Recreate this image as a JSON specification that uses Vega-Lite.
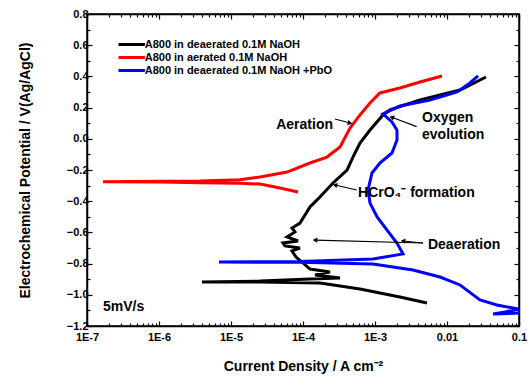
{
  "$schema": "https://vega.github.io/schema/vega-lite/v6.json",
  "width": 432,
  "height": 312,
  "autosize": {"type": "none"},
  "padding": {"left": 87, "top": 14, "right": 9, "bottom": 53},
  "background": "white",
  "config": {
    "view": {"stroke": "black", "strokeWidth": 1.5},
    "font": "Liberation Sans",
    "axis": {
      "labelFont": "Liberation Sans", "labelFontWeight": "bold", "labelFontSize": 11, "labelColor": "black",
      "titleFont": "Liberation Sans", "titleFontWeight": "bold", "titleFontSize": 14, "titleColor": "black",
      "domainColor": "black", "domainWidth": 1.5, "tickColor": "black", "tickWidth": 1.2, "grid": false
    }
  },
  "datasets": {
    "curves": [
      {"series": "A800 in deaerated 0.1M NaOH", "i": 1, "I": 5.27e-3, "E": -1.053},
      {"series": "A800 in deaerated 0.1M NaOH", "i": 2, "I": 2.22e-3, "E": -1.014},
      {"series": "A800 in deaerated 0.1M NaOH", "i": 3, "I": 1.17e-3, "E": -0.988},
      {"series": "A800 in deaerated 0.1M NaOH", "i": 4, "I": 6.19e-4, "E": -0.963},
      {"series": "A800 in deaerated 0.1M NaOH", "i": 5, "I": 3.27e-4, "E": -0.944},
      {"series": "A800 in deaerated 0.1M NaOH", "i": 6, "I": 1.72e-4, "E": -0.924},
      {"series": "A800 in deaerated 0.1M NaOH", "i": 7, "I": 2.53e-5, "E": -0.918},
      {"series": "A800 in deaerated 0.1M NaOH", "i": 8, "I": 3.95e-6, "E": -0.918},
      {"series": "A800 in deaerated 0.1M NaOH", "i": 9, "I": 2.53e-5, "E": -0.912},
      {"series": "A800 in deaerated 0.1M NaOH", "i": 10, "I": 1.25e-4, "E": -0.899},
      {"series": "A800 in deaerated 0.1M NaOH", "i": 11, "I": 3.27e-4, "E": -0.892},
      {"series": "A800 in deaerated 0.1M NaOH", "i": 12, "I": 1.47e-4, "E": -0.873},
      {"series": "A800 in deaerated 0.1M NaOH", "i": 13, "I": 2.37e-4, "E": -0.854},
      {"series": "A800 in deaerated 0.1M NaOH", "i": 14, "I": 1.25e-4, "E": -0.835},
      {"series": "A800 in deaerated 0.1M NaOH", "i": 15, "I": 1.0e-4, "E": -0.796},
      {"series": "A800 in deaerated 0.1M NaOH", "i": 16, "I": 8.0e-5, "E": -0.758},
      {"series": "A800 in deaerated 0.1M NaOH", "i": 17, "I": 7.03e-5, "E": -0.719},
      {"series": "A800 in deaerated 0.1M NaOH", "i": 18, "I": 9.08e-5, "E": -0.700},
      {"series": "A800 in deaerated 0.1M NaOH", "i": 19, "I": 5.62e-5, "E": -0.687},
      {"series": "A800 in deaerated 0.1M NaOH", "i": 20, "I": 5.27e-5, "E": -0.668},
      {"series": "A800 in deaerated 0.1M NaOH", "i": 21, "I": 8.53e-5, "E": -0.655},
      {"series": "A800 in deaerated 0.1M NaOH", "i": 22, "I": 6.0e-5, "E": -0.629},
      {"series": "A800 in deaerated 0.1M NaOH", "i": 23, "I": 7.74e-5, "E": -0.597},
      {"series": "A800 in deaerated 0.1M NaOH", "i": 24, "I": 7.03e-5, "E": -0.572},
      {"series": "A800 in deaerated 0.1M NaOH", "i": 25, "I": 9.08e-5, "E": -0.540},
      {"series": "A800 in deaerated 0.1M NaOH", "i": 26, "I": 1.25e-4, "E": -0.437},
      {"series": "A800 in deaerated 0.1M NaOH", "i": 27, "I": 1.72e-4, "E": -0.373},
      {"series": "A800 in deaerated 0.1M NaOH", "i": 28, "I": 2.61e-4, "E": -0.283},
      {"series": "A800 in deaerated 0.1M NaOH", "i": 29, "I": 4.09e-4, "E": -0.200},
      {"series": "A800 in deaerated 0.1M NaOH", "i": 30, "I": 4.94e-4, "E": -0.117},
      {"series": "A800 in deaerated 0.1M NaOH", "i": 31, "I": 6.19e-4, "E": -0.027},
      {"series": "A800 in deaerated 0.1M NaOH", "i": 32, "I": 8.53e-4, "E": 0.056},
      {"series": "A800 in deaerated 0.1M NaOH", "i": 33, "I": 1.29e-3, "E": 0.153},
      {"series": "A800 in deaerated 0.1M NaOH", "i": 34, "I": 1.61e-3, "E": 0.185},
      {"series": "A800 in deaerated 0.1M NaOH", "i": 35, "I": 4.22e-3, "E": 0.249},
      {"series": "A800 in deaerated 0.1M NaOH", "i": 36, "I": 1.52e-2, "E": 0.313},
      {"series": "A800 in deaerated 0.1M NaOH", "i": 37, "I": 3.48e-2, "E": 0.396},

      {"series": "A800 in aerated 0.1M NaOH", "i": 1, "I": 8.53e-5, "E": -0.341},
      {"series": "A800 in aerated 0.1M NaOH", "i": 2, "I": 4.8e-5, "E": -0.315},
      {"series": "A800 in aerated 0.1M NaOH", "i": 3, "I": 2.53e-5, "E": -0.290},
      {"series": "A800 in aerated 0.1M NaOH", "i": 4, "I": 1.33e-5, "E": -0.285},
      {"series": "A800 in aerated 0.1M NaOH", "i": 5, "I": 3.71e-6, "E": -0.281},
      {"series": "A800 in aerated 0.1M NaOH", "i": 6, "I": 1.03e-6, "E": -0.277},
      {"series": "A800 in aerated 0.1M NaOH", "i": 7, "I": 1.67e-7, "E": -0.275},
      {"series": "A800 in aerated 0.1M NaOH", "i": 8, "I": 1.03e-6, "E": -0.272},
      {"series": "A800 in aerated 0.1M NaOH", "i": 9, "I": 3.71e-6, "E": -0.271},
      {"series": "A800 in aerated 0.1M NaOH", "i": 10, "I": 1.33e-5, "E": -0.262},
      {"series": "A800 in aerated 0.1M NaOH", "i": 11, "I": 2.53e-5, "E": -0.245},
      {"series": "A800 in aerated 0.1M NaOH", "i": 12, "I": 6.0e-5, "E": -0.213},
      {"series": "A800 in aerated 0.1M NaOH", "i": 13, "I": 1.25e-4, "E": -0.155},
      {"series": "A800 in aerated 0.1M NaOH", "i": 14, "I": 2.15e-4, "E": -0.117},
      {"series": "A800 in aerated 0.1M NaOH", "i": 15, "I": 3.27e-4, "E": -0.053},
      {"series": "A800 in aerated 0.1M NaOH", "i": 16, "I": 4.5e-4, "E": 0.069},
      {"series": "A800 in aerated 0.1M NaOH", "i": 17, "I": 6.19e-4, "E": 0.153},
      {"series": "A800 in aerated 0.1M NaOH", "i": 18, "I": 8.53e-4, "E": 0.229},
      {"series": "A800 in aerated 0.1M NaOH", "i": 19, "I": 1.17e-3, "E": 0.294},
      {"series": "A800 in aerated 0.1M NaOH", "i": 20, "I": 2.22e-3, "E": 0.326},
      {"series": "A800 in aerated 0.1M NaOH", "i": 21, "I": 4.22e-3, "E": 0.364},
      {"series": "A800 in aerated 0.1M NaOH", "i": 22, "I": 8.53e-3, "E": 0.403},

      {"series": "A800 in deaerated 0.1M NaOH +PbO", "i": 1, "I": 0.1, "E": -1.117},
      {"series": "A800 in deaerated 0.1M NaOH +PbO", "i": 2, "I": 4.36e-2, "E": -1.123},
      {"series": "A800 in deaerated 0.1M NaOH +PbO", "i": 3, "I": 6.4e-2, "E": -1.110},
      {"series": "A800 in deaerated 0.1M NaOH +PbO", "i": 4, "I": 0.1, "E": -1.091},
      {"series": "A800 in deaerated 0.1M NaOH +PbO", "i": 5, "I": 8.25e-2, "E": -1.085},
      {"series": "A800 in deaerated 0.1M NaOH +PbO", "i": 6, "I": 4.94e-2, "E": -1.065},
      {"series": "A800 in deaerated 0.1M NaOH +PbO", "i": 7, "I": 2.87e-2, "E": -1.033},
      {"series": "A800 in deaerated 0.1M NaOH +PbO", "i": 8, "I": 1.52e-2, "E": -0.937},
      {"series": "A800 in deaerated 0.1M NaOH +PbO", "i": 9, "I": 8.0e-3, "E": -0.886},
      {"series": "A800 in deaerated 0.1M NaOH +PbO", "i": 10, "I": 3.37e-3, "E": -0.841},
      {"series": "A800 in deaerated 0.1M NaOH +PbO", "i": 11, "I": 9.38e-4, "E": -0.803},
      {"series": "A800 in deaerated 0.1M NaOH +PbO", "i": 12, "I": 9.08e-5, "E": -0.792},
      {"series": "A800 in deaerated 0.1M NaOH +PbO", "i": 13, "I": 6.81e-6, "E": -0.790},
      {"series": "A800 in deaerated 0.1M NaOH +PbO", "i": 14, "I": 9.08e-5, "E": -0.786},
      {"series": "A800 in deaerated 0.1M NaOH +PbO", "i": 15, "I": 9.38e-4, "E": -0.771},
      {"series": "A800 in deaerated 0.1M NaOH +PbO", "i": 16, "I": 2.45e-3, "E": -0.738},
      {"series": "A800 in deaerated 0.1M NaOH +PbO", "i": 17, "I": 2.02e-3, "E": -0.668},
      {"series": "A800 in deaerated 0.1M NaOH +PbO", "i": 18, "I": 1.47e-3, "E": -0.585},
      {"series": "A800 in deaerated 0.1M NaOH +PbO", "i": 19, "I": 1.07e-3, "E": -0.501},
      {"series": "A800 in deaerated 0.1M NaOH +PbO", "i": 20, "I": 8.53e-4, "E": -0.412},
      {"series": "A800 in deaerated 0.1M NaOH +PbO", "i": 21, "I": 8.0e-4, "E": -0.328},
      {"series": "A800 in deaerated 0.1M NaOH +PbO", "i": 22, "I": 9.08e-4, "E": -0.219},
      {"series": "A800 in deaerated 0.1M NaOH +PbO", "i": 23, "I": 1.17e-3, "E": -0.155},
      {"series": "A800 in deaerated 0.1M NaOH +PbO", "i": 24, "I": 1.72e-3, "E": -0.091},
      {"series": "A800 in deaerated 0.1M NaOH +PbO", "i": 25, "I": 2.02e-3, "E": -0.008},
      {"series": "A800 in deaerated 0.1M NaOH +PbO", "i": 26, "I": 2.02e-3, "E": 0.056},
      {"series": "A800 in deaerated 0.1M NaOH +PbO", "i": 27, "I": 1.72e-3, "E": 0.108},
      {"series": "A800 in deaerated 0.1M NaOH +PbO", "i": 28, "I": 1.29e-3, "E": 0.159},
      {"series": "A800 in deaerated 0.1M NaOH +PbO", "i": 29, "I": 2.22e-3, "E": 0.210},
      {"series": "A800 in deaerated 0.1M NaOH +PbO", "i": 30, "I": 5.81e-3, "E": 0.249},
      {"series": "A800 in deaerated 0.1M NaOH +PbO", "i": 31, "I": 1.38e-2, "E": 0.300},
      {"series": "A800 in deaerated 0.1M NaOH +PbO", "i": 32, "I": 2.08e-2, "E": 0.358},
      {"series": "A800 in deaerated 0.1M NaOH +PbO", "i": 33, "I": 2.7e-2, "E": 0.403}
    ],
    "notes": [
      {"text": "Aeration", "I": 2.61e-4, "E": 0.088, "side": "right"},
      {"text": "Oxygen", "I": 4.5e-3, "E": 0.133, "side": "left"},
      {"text": "evolution", "I": 4.5e-3, "E": 0.024, "side": "left"},
      {"text": "HCrO₄⁻ formation", "I": 5.81e-4, "E": -0.347, "side": "left"},
      {"text": "Deaeration", "I": 5.44e-3, "E": -0.681, "side": "left"},
      {"text": "5mV/s", "I": 1.67e-7, "E": -1.078, "side": "left"}
    ],
    "arrows": [
      {"name": "aer", "I": 2.78e-4, "E": 0.127, "I2": 4.5e-4, "E2": 0.101},
      {"name": "oxy", "I": 3.79e-3, "E": 0.078, "I2": 1.71e-3, "E2": 0.138},
      {"name": "hcro", "I": 5.57e-4, "E": -0.328, "I2": 2.78e-4, "E2": -0.296},
      {"name": "dea1", "I": 4.64e-3, "E": -0.668, "I2": 1.47e-4, "E2": -0.649},
      {"name": "dea2", "I": 4.64e-3, "E": -0.668, "I2": 2.45e-3, "E2": -0.655}
    ]
  },
  "layer": [
    {
      "data": {"name": "curves"},
      "mark": {"type": "line", "strokeWidth": 3, "clip": true},
      "encoding": {
        "x": {"field": "I", "type": "quantitative",
          "scale": {"type": "log", "domain": [1e-7, 0.1], "nice": false},
          "axis": {"orient": "bottom", "title": "Current Density / A cm⁻²", "titlePadding": 15, "labelPadding": 10,
            "values": [1e-7,2e-7,3e-7,4e-7,5e-7,6e-7,7e-7,8e-7,9e-7,1e-6,2e-6,3e-6,4e-6,5e-6,6e-6,7e-6,8e-6,9e-6,1e-5,2e-5,3e-5,4e-5,5e-5,6e-5,7e-5,8e-5,9e-5,1e-4,2e-4,3e-4,4e-4,5e-4,6e-4,7e-4,8e-4,9e-4,1e-3,2e-3,3e-3,4e-3,5e-3,6e-3,7e-3,8e-3,9e-3,0.01,0.02,0.03,0.04,0.05,0.06,0.07,0.08,0.09,0.1],
            "labelExpr": "abs(log(datum.value)/LN10 - round(log(datum.value)/LN10)) > 0.01 ? '' : (datum.value >= 0.01 ? format(datum.value, '') : '1E' + round(log(datum.value)/LN10))",
            "tickSize": {"condition": {"test": "abs(log(datum.value)/LN10 - round(log(datum.value)/LN10)) > 0.01", "value": -3}, "value": -5},
            "labelFlush": false, "labelOverlap": false}},
        "y": {"field": "E", "type": "quantitative",
          "scale": {"domain": [-1.2, 0.8], "nice": false, "zero": false},
          "axis": {"orient": "left", "title": "Electrochemical Potential / V(Ag/AgCl)", "titlePadding": 34, "labelPadding": 4,
            "values": [-1.2,-1.1,-1.0,-0.9,-0.8,-0.7,-0.6,-0.5,-0.4,-0.3,-0.2,-0.1,0,0.1,0.2,0.3,0.4,0.5,0.6,0.7,0.8],
            "labelExpr": "abs(round(datum.value*10)) % 2 == 1 ? '' : format(datum.value, '.1f')",
            "tickSize": {"condition": {"test": "abs(round(datum.value*10)) % 2 == 1", "value": -3}, "value": -5},
            "labelFlush": false, "labelOverlap": false}},
        "color": {"field": "series", "type": "nominal",
          "scale": {"domain": ["A800 in deaerated 0.1M NaOH", "A800 in aerated 0.1M NaOH", "A800 in deaerated 0.1M NaOH +PbO"], "range": ["black", "#ff0000", "#0000ff"]},
          "legend": {"title": null, "orient": "none", "legendX": 37.7, "legendY": 23.5, "symbolType": "M-2.4,0H2.4", "symbolStrokeWidth": 3, "symbolSize": 121,
            "labelFont": "Liberation Sans", "labelFontWeight": "bold", "labelFontSize": 11, "labelColor": "black", "labelOffset": 6, "labelLimit": 0, "rowPadding": 0, "padding": 0}},
        "order": {"field": "i", "type": "quantitative"}
      }
    },
    {
      "data": {"name": "notes"},
      "transform": [{"filter": "datum.side == 'left'"}],
      "mark": {"type": "text", "align": "left", "baseline": "middle", "font": "Liberation Sans", "fontWeight": "bold", "fontSize": 14, "color": "black"},
      "encoding": {
        "x": {"field": "I", "type": "quantitative",
          "axis": {"orient": "top", "title": null, "labels": false,
            "values": [1e-7,2e-7,3e-7,4e-7,5e-7,6e-7,7e-7,8e-7,9e-7,1e-6,2e-6,3e-6,4e-6,5e-6,6e-6,7e-6,8e-6,9e-6,1e-5,2e-5,3e-5,4e-5,5e-5,6e-5,7e-5,8e-5,9e-5,1e-4,2e-4,3e-4,4e-4,5e-4,6e-4,7e-4,8e-4,9e-4,1e-3,2e-3,3e-3,4e-3,5e-3,6e-3,7e-3,8e-3,9e-3,0.01,0.02,0.03,0.04,0.05,0.06,0.07,0.08,0.09,0.1],
            "tickSize": {"condition": {"test": "abs(log(datum.value)/LN10 - round(log(datum.value)/LN10)) > 0.01", "value": -3}, "value": -5}}},
        "y": {"field": "E", "type": "quantitative",
          "axis": {"orient": "right", "title": null, "labels": false,
            "values": [-1.2,-1.1,-1.0,-0.9,-0.8,-0.7,-0.6,-0.5,-0.4,-0.3,-0.2,-0.1,0,0.1,0.2,0.3,0.4,0.5,0.6,0.7,0.8],
            "tickSize": {"condition": {"test": "abs(round(datum.value*10)) % 2 == 1", "value": -3}, "value": -5}}},
        "text": {"field": "text"}
      }
    },
    {
      "data": {"name": "notes"},
      "transform": [{"filter": "datum.side == 'right'"}],
      "mark": {"type": "text", "align": "right", "baseline": "middle", "font": "Liberation Sans", "fontWeight": "bold", "fontSize": 14, "color": "black"},
      "encoding": {
        "x": {"field": "I", "type": "quantitative", "axis": null},
        "y": {"field": "E", "type": "quantitative", "axis": null},
        "text": {"field": "text"}
      }
    },
    {
      "data": {"name": "arrows"},
      "mark": {"type": "rule", "color": "black", "strokeWidth": 1.2},
      "encoding": {
        "x": {"field": "I", "type": "quantitative", "axis": null},
        "y": {"field": "E", "type": "quantitative", "axis": null},
        "x2": {"field": "I2"},
        "y2": {"field": "E2"}
      }
    },
    {
      "data": {"name": "arrows"},
      "transform": [{"filter": "datum.name == 'aer'"}],
      "mark": {"type": "point", "shape": "triangle-up", "filled": true, "color": "black", "size": 28, "angle": 105, "opacity": 1},
      "encoding": {"x": {"field": "I2", "type": "quantitative", "axis": null}, "y": {"field": "E2", "type": "quantitative", "axis": null}}
    },
    {
      "data": {"name": "arrows"},
      "transform": [{"filter": "datum.name == 'oxy'"}],
      "mark": {"type": "point", "shape": "triangle-up", "filled": true, "color": "black", "size": 28, "angle": 291, "opacity": 1},
      "encoding": {"x": {"field": "I2", "type": "quantitative", "axis": null}, "y": {"field": "E2", "type": "quantitative", "axis": null}}
    },
    {
      "data": {"name": "arrows"},
      "transform": [{"filter": "datum.name == 'hcro'"}],
      "mark": {"type": "point", "shape": "triangle-up", "filled": true, "color": "black", "size": 28, "angle": 283, "opacity": 1},
      "encoding": {"x": {"field": "I2", "type": "quantitative", "axis": null}, "y": {"field": "E2", "type": "quantitative", "axis": null}}
    },
    {
      "data": {"name": "arrows"},
      "transform": [{"filter": "datum.name == 'dea1'"}],
      "mark": {"type": "point", "shape": "triangle-up", "filled": true, "color": "black", "size": 28, "angle": 272, "opacity": 1},
      "encoding": {"x": {"field": "I2", "type": "quantitative", "axis": null}, "y": {"field": "E2", "type": "quantitative", "axis": null}}
    },
    {
      "data": {"name": "arrows"},
      "transform": [{"filter": "datum.name == 'dea2'"}],
      "mark": {"type": "point", "shape": "triangle-up", "filled": true, "color": "black", "size": 28, "angle": 276, "opacity": 1},
      "encoding": {"x": {"field": "I2", "type": "quantitative", "axis": null}, "y": {"field": "E2", "type": "quantitative", "axis": null}}
    }
  ],
  "resolve": {"axis": {"x": "independent", "y": "independent"}}
}
